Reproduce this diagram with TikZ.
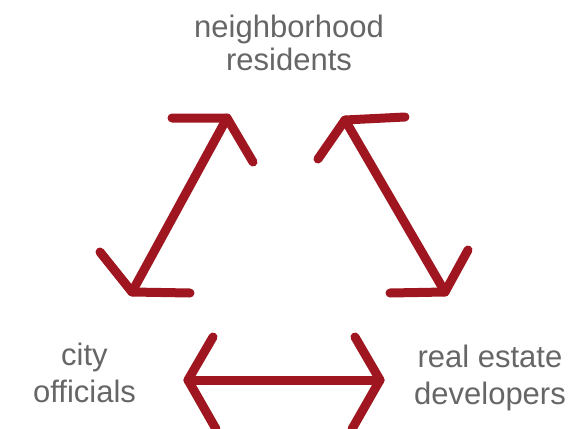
\documentclass[tikz,border=0pt]{standalone}
\usepackage{fontspec}
\setmainfont{Liberation Sans}
\usetikzlibrary{calc}
\definecolor{arrowred}{RGB}{160,22,32}
\definecolor{labelgray}{RGB}{102,102,102}
\begin{document}
\begin{tikzpicture}[x=1pt,y=-1pt,
  relation/.style={draw=arrowred, line width=9pt, line cap=round, line join=round},
  lbl/.style={text=labelgray, align=center, inner sep=0pt, anchor=base}]
\useasboundingbox (0,0) rectangle (582,429);
\clip (0,0) rectangle (582,429);

% labels (anchor = baseline of the last line)
\node[lbl, font=\fontsize{31}{33}\selectfont] (res) at (289,70) {neighborhood\\residents};
\node[lbl, font=\fontsize{31}{37.5}\selectfont] (city) at (84.5,402.5) {city\\officials};
\node[lbl, font=\fontsize{31}{37.5}\selectfont] (dev) at (490,404.5) {real estate\\developers};

% arrow tips
\coordinate (L1) at (227,118);
\coordinate (L2) at (132,292);
\coordinate (R1) at (345,120);
\coordinate (R2) at (445,292);
\coordinate (B1) at (188,380);
\coordinate (B2) at (380,380);

% residents <-> officials
\draw[relation] (L1) -- (L2);
\draw[relation] (172,118) -- (L1) -- (253,162);
\draw[relation] (100,252) -- (L2) -- (190,293);

% residents <-> developers
\draw[relation] (R1) -- (R2);
\draw[relation] (405,117) -- (R1) -- (318,159);
\draw[relation] (468,250) -- (R2) -- (390,293);

% officials <-> developers
\draw[relation] (B1) -- (B2);
\draw[relation] (213,337) -- (B1) -- (216,429);
\draw[relation] (355,337) -- (B2) -- (352,429);
\end{tikzpicture}
\end{document}
